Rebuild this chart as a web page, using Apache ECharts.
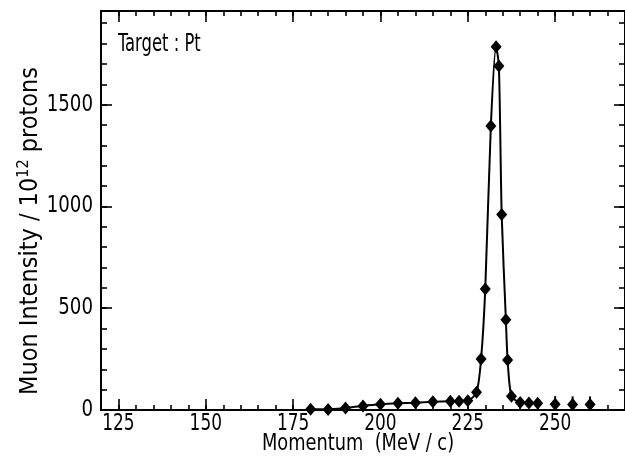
<!DOCTYPE html>
<html>
<head>
<meta charset="utf-8">
<script src="https://cdn.jsdelivr.net/npm/echarts@6/dist/echarts.min.js"></script>
<style>
  html, body { margin: 0; padding: 0; background: #fff; }
  #chart { width: 625px; height: 461px; }
</style>
</head>
<body>
<div id="chart"></div>
<script>
// Muon momentum scan, platinum target
const momentum = [180, 185, 190, 195, 200, 205, 210, 215, 220, 222.5, 225, 227.5, 228.8,
                  230, 231.6, 233.1, 233.9, 234.7, 235.9, 236.4, 237.5, 240, 242.5, 245];
const intensity = [4, 3, 10, 20, 28, 33, 36, 40, 43, 43, 45, 87, 250,
                   595, 1395, 1785, 1690, 960, 443, 246, 68, 37, 35, 33];
// isolated points beyond the fitted curve, with their upper error
const tailMomentum = [250, 255, 260];
const tailIntensity = [28, 27, 27];
const tailError = [40, 40, 40];

const xLabelValues = [125, 150, 175, 200, 225, 250];
const yLabelValues = [0, 500, 1000, 1500];

const FONT = '"DejaVu Sans Condensed", "DejaVu Sans", sans-serif';
const X_MIN = 120, X_MAX = 270, Y_MIN = 0, Y_MAX = 1960;

const xMinor = [];
for (let v = X_MIN; v <= X_MAX; v += 5) xMinor.push(v);
const yMinor = [];
for (let v = Y_MIN; v <= 1900; v += 100) yMinor.push(v);

const gridBox = { left: 101, right: -2, top: 11, bottom: 51, containLabel: false };

function axisDef(kind, grid, pos, ticks, len, showLine) {
  return {
    type: 'value', gridIndex: grid, position: pos,
    min: kind === 'x' ? X_MIN : Y_MIN, max: kind === 'x' ? X_MAX : Y_MAX,
    axisLine: { show: showLine, onZero: false, lineStyle: { color: '#000', width: 2 } },
    axisTick: { show: true, inside: true, length: len, customValues: ticks,
                lineStyle: { color: '#000', width: 1.6 } },
    axisLabel: { show: false },
    splitLine: { show: false }
  };
}

const chart = echarts.init(document.getElementById('chart'), null, { renderer: 'canvas' });
chart.setOption({
  backgroundColor: '#fff',
  animation: false,
  grid: [Object.assign({}, gridBox), Object.assign({}, gridBox)],
  xAxis: [
    axisDef('x', 0, 'bottom', xMinor, 5, true),
    axisDef('x', 0, 'top', xMinor, 5, true),
    axisDef('x', 1, 'bottom', xLabelValues, 11, false),
    axisDef('x', 1, 'top', xLabelValues, 11, false)
  ],
  yAxis: [
    axisDef('y', 0, 'left', yMinor, 6, true),
    axisDef('y', 0, 'right', yMinor, 6, true),
    axisDef('y', 1, 'left', yLabelValues, 11, false),
    axisDef('y', 1, 'right', yLabelValues, 11, false)
  ],
  series: [
    {
      type: 'line', xAxisIndex: 0, yAxisIndex: 0,
      data: momentum.map((m, i) => [m, intensity[i]]),
      smooth: 0.25,
      symbol: 'diamond', symbolSize: [11, 13],
      lineStyle: { color: '#000', width: 2 },
      itemStyle: { color: '#000', opacity: 1 }
    },
    {
      type: 'custom', xAxisIndex: 0, yAxisIndex: 0,
      data: tailMomentum.map((m, i) => [m, tailIntensity[i], tailIntensity[i] + tailError[i]]),
      renderItem: function (params, api) {
        const p0 = api.coord([api.value(0), api.value(1)]);
        const p1 = api.coord([api.value(0), api.value(2)]);
        return { type: 'line', shape: { x1: p0[0], y1: p0[1], x2: p1[0], y2: p1[1] },
                 style: { stroke: '#000', lineWidth: 2 } };
      }
    },
    {
      type: 'scatter', xAxisIndex: 0, yAxisIndex: 0,
      data: tailMomentum.map((m, i) => [m, tailIntensity[i]]),
      symbol: 'diamond', symbolSize: [11, 13],
      itemStyle: { color: '#000', opacity: 1 }
    }
  ]
});

// Tick labels and titles, set in a tall condensed face
function textStyle(text, size, align) {
  return { text: text, fontFamily: FONT, fontSize: size, fill: '#000',
           align: align, verticalAlign: 'middle' };
}
const texts = [];
xLabelValues.forEach(function (v) {
  const x = chart.convertToPixel({ xAxisIndex: 0 }, v);
  texts.push({ type: 'text', x: x, y: 424, scaleX: 0.82,
               style: textStyle(String(v), 23, 'center') });
});
yLabelValues.forEach(function (v) {
  const y = chart.convertToPixel({ yAxisIndex: 0 }, v);
  texts.push({ type: 'text', x: 93, y: y, scaleX: 0.88,
               style: textStyle(String(v), 23, 'right') });
});
texts.push({ type: 'text', x: 118, y: 45, scaleX: 0.76,
             style: textStyle('Target : Pt', 24, 'left') });
texts.push({ type: 'text', x: 358, y: 444, scaleX: 0.86,
             style: textStyle('Momentum  (MeV / c)', 23, 'center') });
const yTitle = textStyle('Muon Intensity / 10{sup|12} protons', 25, 'center');
yTitle.rich = { sup: { fontFamily: FONT, fontSize: 16, fill: '#000',
                       verticalAlign: 'top', padding: [0, 0, 12, 0] } };
texts.push({ type: 'text', x: 30, y: 231, rotation: Math.PI / 2, style: yTitle });
chart.setOption({ graphic: texts });
</script>
</body>
</html>
